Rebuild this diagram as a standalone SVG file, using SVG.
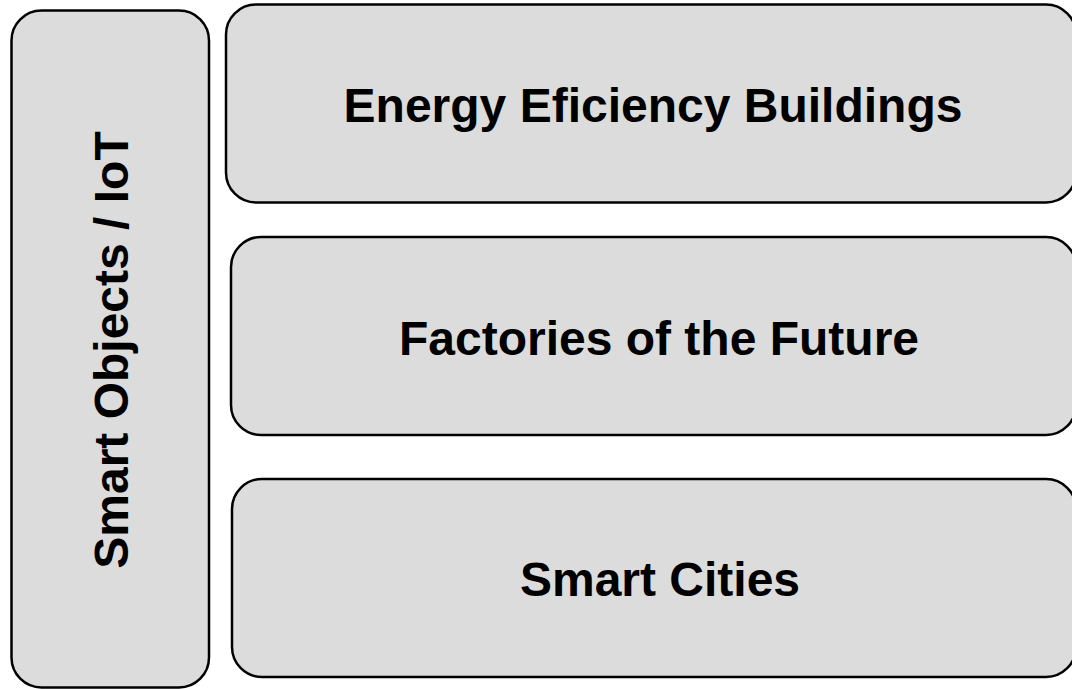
<svg xmlns="http://www.w3.org/2000/svg" width="1072" height="689" viewBox="0 0 1072 689">
<style>
.box{fill:#dcdcdc;stroke:#000;stroke-width:2.5}
.lbl{font-family:"Liberation Sans",Arial,sans-serif;font-weight:bold;font-size:48px;fill:#000;text-anchor:middle}
</style>
<rect width="1072" height="689" fill="#fff"/>
<g id="iot">
<rect class="box" x="11.5" y="10.5" width="197.5" height="677" rx="30" ry="30"/>
<text class="lbl" transform="translate(128 350) rotate(-90)">Smart Objects / IoT</text>
</g>
<g id="energy">
<rect class="box" x="226" y="4.5" width="850" height="198" rx="30" ry="30"/>
<text class="lbl" x="653" y="121.5">Energy Eficiency Buildings</text>
</g>
<g id="factories">
<rect class="box" x="231" y="237" width="845" height="198" rx="30" ry="30"/>
<text class="lbl" x="659" y="355">Factories of the Future</text>
</g>
<g id="cities">
<rect class="box" x="232" y="479" width="844" height="198" rx="30" ry="30"/>
<text class="lbl" x="660" y="595.5">Smart Cities</text>
</g>
<g id="connectors"></g>
</svg>
